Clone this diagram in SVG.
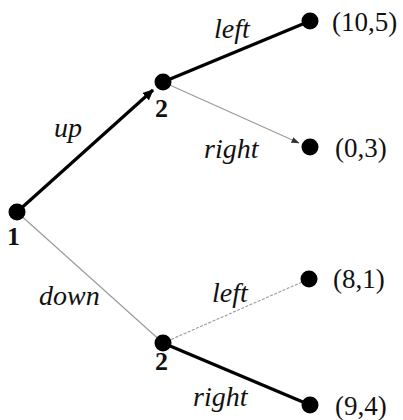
<svg xmlns="http://www.w3.org/2000/svg" width="403" height="420" viewBox="0 0 403 420">
<defs>
<style>
.dot{fill:#000}
.thick{stroke:#000;stroke-width:3.2;fill:none}
.thin{stroke:#999;stroke-width:1.1;fill:none}
.lbl{font-family:"Liberation Serif",serif;font-style:italic;font-size:28px;fill:#111}
.num{font-family:"Liberation Serif",serif;font-weight:bold;font-size:26px;fill:#111}
.pay{font-family:"Liberation Serif",serif;font-size:27px;fill:#111}
</style>
<marker id="ahThick" markerWidth="11" markerHeight="10" refX="10" refY="5" orient="auto" markerUnits="userSpaceOnUse"><path d="M0,0 L11,5 L0,10 z" fill="#000"/></marker>
<marker id="ahThin" markerWidth="8" markerHeight="6" refX="7.5" refY="3" orient="auto" markerUnits="userSpaceOnUse"><path d="M0,0 L8,3 L0,6 z" fill="#333"/></marker>
</defs>
<g id="edges">
<line class="thick" x1="17" y1="212" x2="153" y2="90" marker-end="url(#ahThick)"/>
<line class="thick" x1="163" y1="82" x2="310" y2="21"/>
<line class="thin" x1="163" y1="82" x2="299" y2="143" marker-end="url(#ahThin)"/>
<line class="thin" x1="17" y1="212" x2="163" y2="343"/>
<line class="thin" x1="163" y1="343" x2="309" y2="279" stroke-dasharray="3,1.5"/>
<line class="thick" x1="163" y1="343" x2="310" y2="405"/>
</g>
<g id="labels">
<text class="lbl" x="54" y="137">up</text>
<text class="lbl" x="214" y="38">left</text>
<text class="lbl" x="204" y="158">right</text>
<text class="lbl" x="39" y="305">down</text>
<text class="lbl" x="212" y="302">left</text>
<text class="lbl" x="193" y="406">right</text>
</g>
<g id="n1"><circle class="dot" cx="17" cy="212" r="8.5"/><text class="num" x="7" y="245">1</text></g>
<g id="n2a"><circle class="dot" cx="163" cy="82" r="8.5"/><text class="num" x="155" y="117">2</text></g>
<g id="n2b"><circle class="dot" cx="163" cy="343" r="8.5"/><text class="num" x="155" y="370">2</text></g>
<g id="t1"><circle class="dot" cx="310" cy="21" r="8.5"/><text class="pay" x="332" y="31">(10,5)</text></g>
<g id="t2"><circle class="dot" cx="310" cy="147" r="8.5"/><text class="pay" x="335" y="157">(0,3)</text></g>
<g id="t3"><circle class="dot" cx="309" cy="279" r="8.5"/><text class="pay" x="333" y="288">(8,1)</text></g>
<g id="t4"><circle class="dot" cx="310" cy="405" r="8.5"/><text class="pay" x="335" y="415">(9,4)</text></g>
</svg>
